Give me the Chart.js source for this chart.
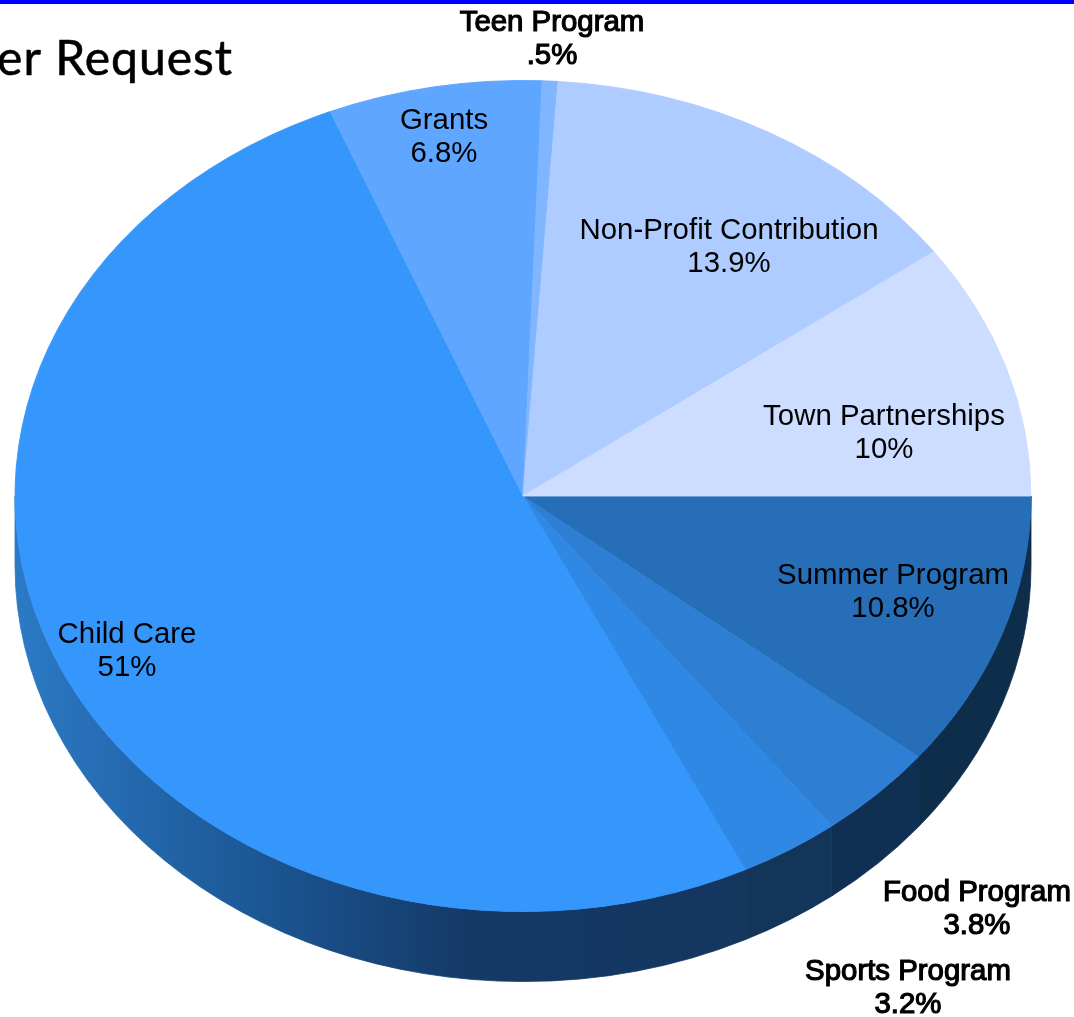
<!DOCTYPE html>
<html>
<head>
<meta charset="utf-8">
<title>Funding Request</title>
<script src="https://cdn.jsdelivr.net/npm/chart.js@4"></script>
<style>
    html, body { margin: 0; padding: 0; background: #fff; overflow: hidden; }
    #topBar { position: absolute; left: 0; top: 0; width: 1074px; height: 4px; background: #0000ff; }
    canvas { display: block; }
</style>
</head>
<body>
<canvas id="pieChart" width="1074" height="1017"></canvas>
<div id="topBar"></div>
<script>
const categories = ['Summer Program', 'Food Program', 'Sports Program', 'Child Care', 'Grants', 'Teen Program', 'Non-Profit Contribution', 'Town Partnerships'];
const shares = [10.8, 3.8, 3.2, 51, 6.8, 0.5, 13.9, 10];
const topColors = ['#266eb8', '#2e7fd3', '#2f88e4', '#3596fc', '#5ea6ff', '#80b6ff', '#aeccff', '#ccddff'];
const wallColors = ['#0e2d4a', '#0f3052', '#123559', null, null, null, null, null];
const titleText = 'er Request';

// Pie look and label placement
const squash = 0.818;
const wallDepth = 70;
const pieCenterY = 496;
const labelSpots = [[893, 576], [977, 893], [908, 972], [127, 635], [444, 121], [552, 23], [729, 231], [884, 417]];
const outsideLabels = ['Food Program', 'Sports Program', 'Teen Program'];

function childCareGradient(ctx) {
    const g = ctx.createLinearGradient(14, 0, 740, 0);
    g.addColorStop(0, '#2c7ac6');
    g.addColorStop(0.33, '#1c5796');
    g.addColorStop(0.62, '#143a68');
    g.addColorStop(1, '#14365f');
    return g;
}

const tiltPlugin = {
    id: 'tilt',
    beforeDatasetsDraw(chart) {
        const ctx = chart.ctx;
        const arcs = chart.getDatasetMeta(0).data;
        const cx = arcs[0].x;
        const cy = arcs[0].y;
        const rx = arcs[0].outerRadius;
        const ry = rx * squash;

        // side wall, only the front half shows
        arcs.forEach((arc, i) => {
            const a0 = arc.startAngle;
            const a1 = Math.min(arc.endAngle, Math.PI);
            if (a0 >= Math.PI) return;
            ctx.beginPath();
            ctx.ellipse(cx, pieCenterY, rx, ry, 0, a0, a1);
            ctx.ellipse(cx, pieCenterY + wallDepth, rx, ry, 0, a1, a0, true);
            ctx.closePath();
            const paint = wallColors[i] || childCareGradient(ctx);
            ctx.fillStyle = paint;
            ctx.strokeStyle = paint;
            ctx.lineWidth = 0.8;
            ctx.fill();
            ctx.stroke();
        });

        ctx.save();
        ctx.translate(0, pieCenterY);
        ctx.scale(1, squash);
        ctx.translate(0, -cy);
    },
    afterDatasetsDraw(chart) {
        const ctx = chart.ctx;
        ctx.restore();

        ctx.textAlign = 'center';
        ctx.textBaseline = 'middle';
        ctx.fillStyle = '#000';
        ctx.strokeStyle = '#000';
        categories.forEach((name, i) => {
            const pct = String(shares[i]).replace(/^0/, '') + '%';
            const [x, y] = labelSpots[i];
            ctx.font = '29.4px "Liberation Sans", Arial, sans-serif';
            ctx.fillText(name, x, y);
            ctx.fillText(pct, x, y + 33);
            if (outsideLabels.includes(name)) {
                ctx.lineWidth = 1.2;
                ctx.strokeText(name, x, y);
                ctx.strokeText(pct, x, y + 33);
            }
        });

        ctx.textAlign = 'right';
        ctx.font = '48px Lato, "DejaVu Sans", sans-serif';
        ctx.letterSpacing = '1px';
        ctx.lineWidth = 0.6;
        ctx.fillText(titleText, 233, 60);
        ctx.strokeText(titleText, 233, 60);
        ctx.letterSpacing = '0px';
    }
};

new Chart(document.getElementById('pieChart').getContext('2d'), {
    type: 'pie',
    data: {
        labels: categories,
        datasets: [{
            data: shares,
            backgroundColor: topColors,
            borderColor: topColors,
            borderWidth: 1
        }]
    },
    options: {
        responsive: false,
        animation: false,
        rotation: 90,
        layout: { padding: { left: 14, right: 42, top: 0, bottom: 0 } },
        plugins: {
            legend: { display: false },
            tooltip: { enabled: false }
        }
    },
    plugins: [tiltPlugin]
});
</script>
</body>
</html>
